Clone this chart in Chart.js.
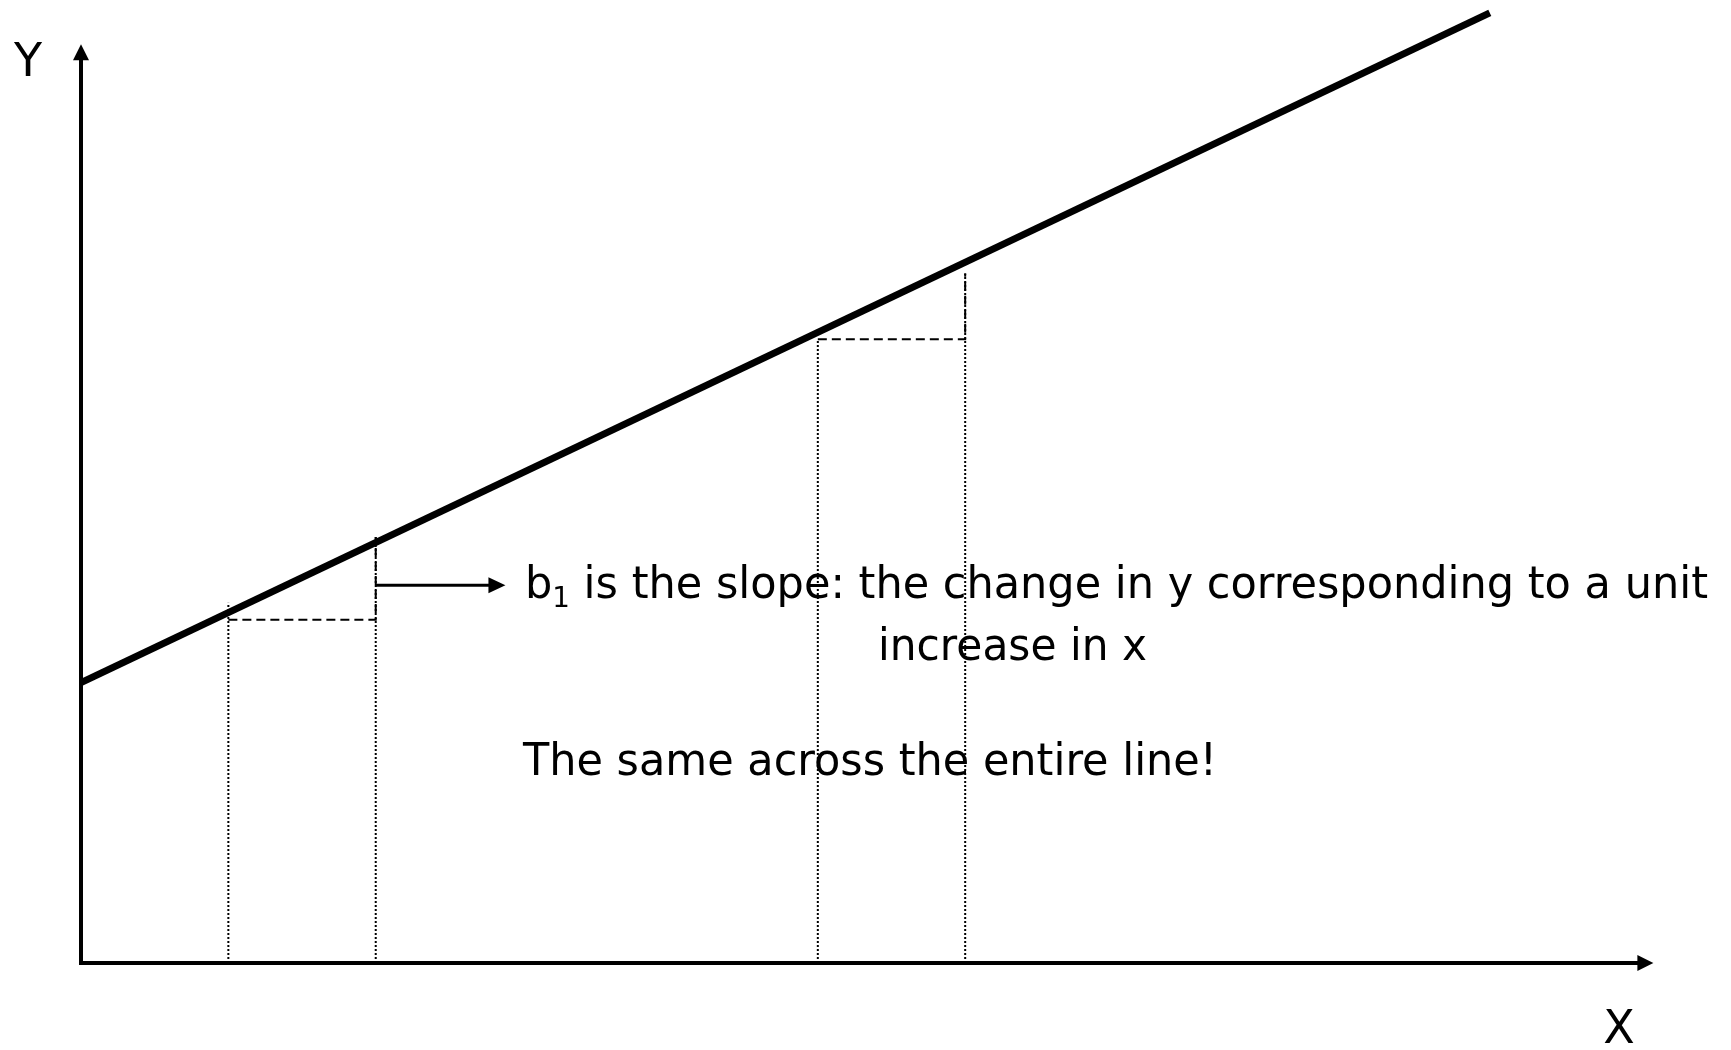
<!DOCTYPE html>
<html>
<head>
<meta charset="utf-8">
<script src="https://cdn.jsdelivr.net/npm/chart.js@4/dist/chart.umd.min.js"></script>
<style>
  html, body { margin: 0; padding: 0; background: #fff; }
  #wrap { width: 1731px; height: 1050px; }
</style>
</head>
<body>
<div id="wrap"><canvas id="myChart" width="1731" height="1050"></canvas></div>
<script>
// data (axis units: origin at the corner of the two arrows)
var line_x = [0, 9.56];
var line_y = [4, 13.56];

// the two "unit step" triangles
var step_x0 = [1, 5];
var step_x1 = [2, 6];
var step_base = [4.9, 8.9];
var step_top = [6.08, 9.84];

// dotted drop lines down to the x axis
var drop_x = [1, 2, 5, 6];
var drop_top = [5.14, 6.08, 8.9, 9.84];

// axis ends and the labels
var x_end = 10.67;
var y_end = 13.11;
var axis_labels = ['X', 'Y'];

// annotation arrow (from the step at x=2) and the texts
var arrow_from = [2, 5.39];
var arrow_to = [2.88, 5.39];
var note_line1 = [' is the slope: the change in y corresponding to a unit'];
var note_line2 = 'increase in x';
var note_line3 = 'The same across the entire line!';

const ctx = document.getElementById('myChart');
const FONT = '"DejaVu Sans", Verdana, sans-serif';

function pts(xs, ys) {
	var out = [];
	for (let i = 0; i < xs.length; i++) {
		out.push({ x: xs[i], y: ys[i] });
	}
	return out;
}

var datasets = [];
for (let i = 0; i < drop_x.length; i++) {
	datasets.push({
		label: 'drop' + i,
		data: pts([drop_x[i], drop_x[i]], [0, drop_top[i]]),
		borderColor: '#000',
		borderWidth: 2,
		borderDash: [2, 2],
		pointRadius: 0,
		clip: false
	});
}
for (let i = 0; i < step_x0.length; i++) {
	datasets.push({
		label: 'step' + i,
		data: pts([step_x0[i], step_x1[i], step_x1[i]], [step_base[i], step_base[i], step_top[i]]),
		borderColor: '#000',
		borderWidth: 2,
		borderDash: [9, 5],
		pointRadius: 0,
		clip: false
	});
}
datasets.push({
	label: 'regression',
	data: pts(line_x, line_y),
	borderColor: '#000',
	borderWidth: 7,
	borderCapStyle: 'butt',
	pointRadius: 0,
	clip: false
});

function arrowHead(c, x, y, dir, len, half) {
	c.beginPath();
	if (dir == 'right') {
		c.moveTo(x, y);
		c.lineTo(x - len, y - half);
		c.lineTo(x - len, y + half);
	} else {
		c.moveTo(x, y);
		c.lineTo(x - half, y + len);
		c.lineTo(x + half, y + len);
	}
	c.closePath();
	c.fill();
}

// draw text parts squeezed to a target width
function drawRich(c, parts, x, y, targetW) {
	var w = 0;
	for (let p of parts) {
		c.font = p.size + 'px ' + FONT;
		w += c.measureText(p.t).width;
	}
	var k = targetW / w;
	c.save();
	c.translate(x, y);
	c.scale(k, 1);
	var cx = 0;
	for (let p of parts) {
		c.font = p.size + 'px ' + FONT;
		c.fillText(p.t, cx, p.dy || 0);
		cx += c.measureText(p.t).width;
	}
	c.restore();
}

const axesPlugin = {
	id: 'axesPlugin',
	afterDatasetsDraw(chart) {
		const c = chart.ctx;
		const sx = chart.scales.x;
		const sy = chart.scales.y;
		const ox = sx.getPixelForValue(0);
		const oy = sy.getPixelForValue(0);
		const xe = sx.getPixelForValue(x_end);
		const ye = sy.getPixelForValue(y_end);
		c.save();
		c.strokeStyle = '#000';
		c.fillStyle = '#000';
		c.lineWidth = 4;
		c.lineCap = 'butt';
		c.beginPath();
		c.moveTo(ox, oy);
		c.lineTo(xe - 12, oy);
		c.moveTo(ox, oy + 2);
		c.lineTo(ox, ye + 12);
		c.stroke();
		arrowHead(c, xe, oy, 'right', 16, 8);
		arrowHead(c, ox, ye, 'up', 16, 8);

		// annotation arrow
		const ax0 = sx.getPixelForValue(arrow_from[0]);
		const ax1 = sx.getPixelForValue(arrow_to[0]);
		const ay = sy.getPixelForValue(arrow_from[1]);
		c.lineWidth = 3;
		c.beginPath();
		c.moveTo(ax0, ay);
		c.lineTo(ax1 - 14, ay);
		c.stroke();
		arrowHead(c, ax1, ay, 'right', 17, 8);

		// axis labels
		c.textBaseline = 'alphabetic';
		c.textAlign = 'center';
		c.font = '46px ' + FONT;
		c.fillText(axis_labels[1], 28, 76);
		c.fillText(axis_labels[0], 1619, 1043);

		// notes
		c.textAlign = 'left';
		drawRich(c, [{ t: 'b', size: 45 }, { t: '1', size: 29, dy: 9 }, { t: note_line1[0], size: 45 }], 525, 598, 1183);
		drawRich(c, [{ t: note_line2, size: 45 }], 878, 660, 269);
		drawRich(c, [{ t: note_line3, size: 45 }], 523, 775, 694);
		c.restore();
	}
};

var chart1 = new Chart(ctx, {
	type: 'line',
	data: { datasets: datasets },
	options: {
		responsive: false,
		animation: false,
		layout: { padding: { left: 81, right: 29, top: 3, bottom: 87 } },
		plugins: { legend: { display: false }, tooltip: { enabled: false } },
		scales: {
			x: { type: 'linear', min: 0, max: 11, display: false },
			y: { type: 'linear', min: 0, max: 13.7, display: false }
		}
	},
	plugins: [axesPlugin]
});
</script>
</body>
</html>
